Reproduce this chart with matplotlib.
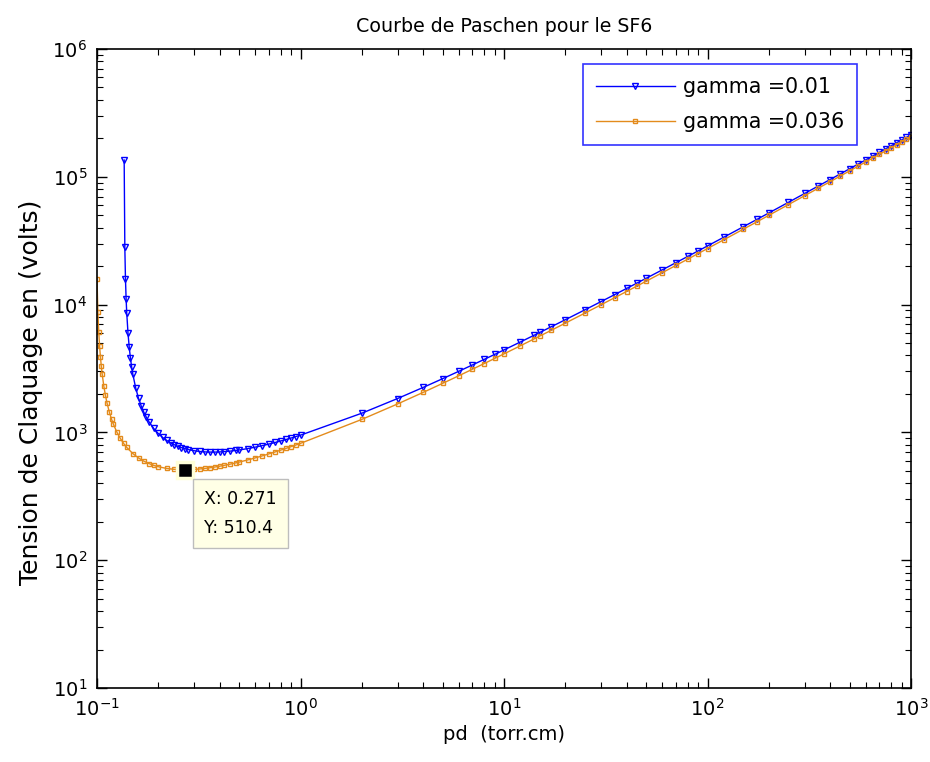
import matplotlib
matplotlib.use('Agg')
import matplotlib.pyplot as plt

# ---------------- data ----------------
pd_low_blue = [0.136, 0.137, 0.138, 0.139, 0.140, 0.142, 0.144, 0.146, 0.148, 0.150,
               0.155, 0.160, 0.165, 0.170, 0.175, 0.180, 0.190, 0.200, 0.210, 0.220,
               0.230, 0.240, 0.250, 0.260, 0.271, 0.280, 0.300, 0.320, 0.340, 0.360,
               0.380, 0.400, 0.420, 0.450, 0.480, 0.500, 0.550, 0.600, 0.650, 0.700,
               0.750, 0.800, 0.850, 0.900, 0.950, 1.0]
V_low_blue = [135300, 28180, 15880, 11130, 8609, 5985, 4632, 3807, 3252, 2853,
              2220, 1849, 1606, 1435, 1309, 1212, 1073.5, 980.5, 914.4, 865.6,
              828.7, 800.1, 777.8, 760.1, 744.7, 734.8, 718.8, 709.0, 703.5, 701.3,
              701.4, 703.2, 706.5, 713.4, 722.1, 728.6, 746.9, 767.1, 788.5, 810.8,
              833.7, 856.9, 880.4, 904.0, 927.7, 951.4]

pd_low_orange = [0.100, 0.101, 0.102, 0.103, 0.104, 0.105, 0.106, 0.108, 0.110, 0.112,
                 0.115, 0.118, 0.120, 0.125, 0.130, 0.135, 0.140, 0.150, 0.160, 0.170,
                 0.180, 0.190, 0.200, 0.220, 0.240, 0.260, 0.271, 0.280, 0.300, 0.320,
                 0.340, 0.360, 0.380, 0.400, 0.420, 0.450, 0.480, 0.500, 0.550, 0.600,
                 0.650, 0.700, 0.750, 0.800, 0.850, 0.900, 0.950, 1.0]
V_low_orange = [15920, 8768, 6106, 4716, 3863, 3285, 2869, 2308, 1948.8, 1698.8,
                1440.4, 1263.5, 1173.7, 1010.3, 900.5, 822.0, 763.5, 682.8, 630.8, 595.3,
                570.3, 552.2, 538.9, 522.2, 513.9, 510.6, 510.4, 510.8, 513.3, 517.4,
                522.8, 529.1, 536.0, 543.5, 551.5, 564.0, 577.0, 585.9, 608.7, 632.0,
                655.6, 679.3, 703.1, 726.8, 750.5, 774.0, 797.5, 820.9]

pd_high = [2, 3, 4, 5, 6, 7, 8, 9, 10, 12, 14, 15, 17, 20, 25, 30, 35, 40, 45, 50,
           60, 70, 80, 90, 100, 120, 150, 175, 200, 250, 300, 350, 400, 450, 500,
           550, 600, 650, 700, 750, 800, 850, 900, 950, 1000]
V_high_blue = [1412.6, 1841.3, 2246.3, 2634.2, 3008.9, 3373.1, 3728.7, 4077.0, 4419.0,
               5087.1, 5737.6, 6057.3, 6687.1, 7611.0, 9106.8, 10559, 11977, 13366,
               14732, 16077, 18715, 21295, 23828, 26320, 28778, 33606, 40670, 46427,
               52088, 63178, 74018, 84660, 95137, 105474, 115690, 125799, 135812,
               145740, 155591, 165369, 175083, 184735, 194331, 203875, 213369]
V_high_orange = [1263.4, 1670.0, 2053.6, 2421.0, 2776.2, 3121.7, 3459.3, 3790.1, 4115.1,
                 4750.5, 5369.9, 5674.4, 6274.6, 7155.9, 8584.2, 9972.5, 11329, 12660,
                 13968, 15257, 17788, 20265, 22698, 25094, 27458, 32104, 38907, 44456,
                 49916, 60618, 71087, 81371, 91500, 101499, 111383, 121167, 130862,
                 140477, 150018, 159493, 168905, 178261, 187564, 196816, 206024]

labels = ['gamma =0.01', 'gamma =0.036']
tip_x, tip_y = 0.271, 510.4

x_blue = pd_low_blue + pd_high
y_blue = V_low_blue + V_high_blue
x_orange = pd_low_orange + pd_high
y_orange = V_low_orange + V_high_orange

# ---------------- figure ----------------
plt.rcParams['font.family'] = ['DejaVu Sans']
plt.rcParams['mathtext.fontset'] = 'dejavusans'

W, H = 930, 762
fig = plt.figure(figsize=(W / 100, H / 100), dpi=100)
ax = fig.add_axes([97 / W, 1 - 688 / H, 814 / W, 639 / H])

blue = '#0000FF'
orange = '#E38B1C'
ax.plot(x_blue, y_blue, color=blue, lw=1, marker='v', ms=4.5, mfc='none', mew=1,
        label=labels[0])
ax.plot(x_orange, y_orange, color=orange, lw=1, marker='s', ms=2.8, mfc='none', mew=1,
        label=labels[1])

ax.set_xscale('log')
ax.set_yscale('log')
ax.set_xlim(0.1, 1000)
ax.set_ylim(10, 1e6)

# data tip
ax.plot([tip_x], [tip_y], marker='s', ms=11, color='black', mec='#FFFFD8', mew=2.5,
        zorder=6, clip_on=False)
ax.annotate(f'X: {tip_x}\nY: {tip_y}', xy=(tip_x, tip_y), xytext=(13.7, -14.4),
            textcoords='offset points', ha='left', va='top', fontsize=12.5,
            linespacing=1.83, zorder=7,
            bbox=dict(boxstyle='square,pad=0.63', fc='#FFFFE6', ec='#BDBDBD', lw=1))

ax.tick_params(which='both', direction='in', top=True, right=True, labelsize=14,
               pad=7)
ax.tick_params(which='major', length=7, width=1)
ax.tick_params(which='minor', length=4, width=0.8)
for s in ax.spines.values():
    s.set_linewidth(1.2)

ax.set_title('Courbe de Paschen pour le SF6', fontsize=13.7, pad=12)
ax.set_xlabel('pd  (torr.cm)', fontsize=14, labelpad=4)
ax.set_ylabel('Tension de Claquage en (volts)', fontsize=18)
ax.yaxis.set_label_coords(-0.0663, 0.4632)

leg = ax.legend(loc='upper right', bbox_to_anchor=(0.9337, 0.9765), borderaxespad=0,
                frameon=True, fancybox=False, edgecolor=blue, fontsize=14.9,
                handlelength=3.8, handletextpad=0.4, borderpad=0.62,
                labelspacing=0.75)
leg.get_frame().set_linewidth(1.2)

fig.savefig('out.png', dpi=100, facecolor='white')
